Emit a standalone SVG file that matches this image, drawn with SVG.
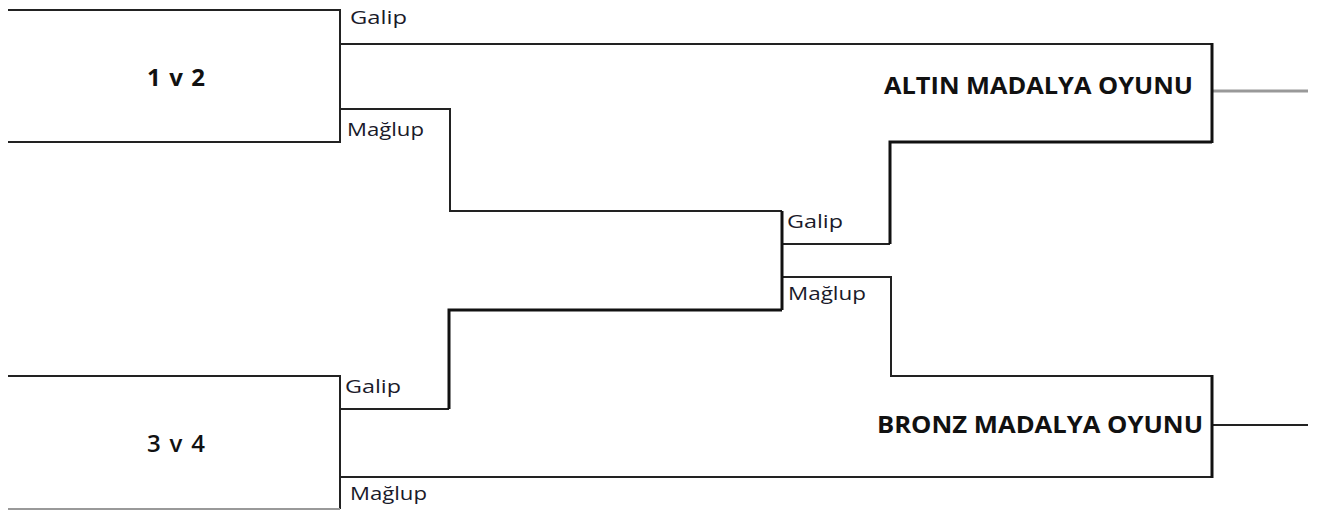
<svg xmlns="http://www.w3.org/2000/svg" width="1319" height="510" viewBox="0 0 1319 510">
  <style>
    .ln { fill: none; stroke: #222; stroke-width: 2; }
    .thick { fill: none; stroke: #111; stroke-width: 3; }
    .gray { fill: none; stroke: #999; stroke-width: 3; }
    .lbl { font-family: "Open Sans", "Liberation Sans", sans-serif; font-size: 19px; fill: #1a1a2a; }
    .match { font-family: "Open Sans", "Liberation Sans", sans-serif; font-size: 24px; font-weight: bold; fill: #111; }
    .final { font-family: "Open Sans", "Liberation Sans", sans-serif; font-size: 24px; font-weight: bold; fill: #111; }
  </style>
  <rect width="1319" height="510" fill="#fff"/>

  <g id="connectors">
    <!-- 1 v 2 winner to gold game -->
    <path class="ln" d="M340 44 H1212"/>
    <!-- 1 v 2 loser to semi-final -->
    <path class="ln" d="M340 109 H450 V211 H782"/>
    <!-- 3 v 4 winner to semi-final -->
    <path class="ln" d="M340 409 H449"/>
    <path class="thick" d="M449 409 V310 H782"/>
    <!-- 3 v 4 loser to bronze game -->
    <path class="ln" d="M340 477 H1212"/>
    <!-- semi-final winner to gold game -->
    <path class="ln" d="M782 244 H890"/>
    <path class="thick" d="M890 244 V142 H1212"/>
    <!-- semi-final loser to bronze game -->
    <path class="ln" d="M782 277 H891 V376 H1212"/>
    <!-- outputs -->
    <path class="gray" d="M1212 91 H1308"/>
    <path class="ln" d="M1212 425 H1308"/>
  </g>

  <g id="match-1v2">
    <path class="ln" d="M8 10 H340 V142 H8"/>
    <text class="match" x="147" y="86" textLength="58" lengthAdjust="spacing">1 v 2</text>
    <text class="lbl" x="350" y="24" textLength="57" lengthAdjust="spacingAndGlyphs">Galip</text>
    <text class="lbl" x="347" y="136" textLength="77" lengthAdjust="spacingAndGlyphs">Mağlup</text>
  </g>

  <g id="match-3v4">
    <path class="ln" d="M8 376 H340 V509"/>
    <path class="gray" style="stroke-width:2" d="M8 509 H340"/>
    <text class="match" x="147" y="452" textLength="58" lengthAdjust="spacing" style="font-weight:600">3 v 4</text>
    <text class="lbl" x="345" y="393" textLength="56" lengthAdjust="spacingAndGlyphs">Galip</text>
    <text class="lbl" x="350" y="500" textLength="77" lengthAdjust="spacingAndGlyphs">Mağlup</text>
  </g>

  <g id="semi-final">
    <path class="thick" d="M782 211 V310"/>
    <text class="lbl" x="787" y="228" textLength="56" lengthAdjust="spacingAndGlyphs">Galip</text>
    <text class="lbl" x="788" y="300" textLength="78" lengthAdjust="spacingAndGlyphs">Mağlup</text>
  </g>

  <g id="gold-game">
    <path class="thick" d="M1212 43 V143"/>
    <text class="final" x="884" y="94" textLength="309" lengthAdjust="spacingAndGlyphs">ALTIN MADALYA OYUNU</text>
  </g>

  <g id="bronze-game">
    <path class="thick" d="M1212 375 V478"/>
    <text class="final" x="877" y="433" textLength="326" lengthAdjust="spacingAndGlyphs">BRONZ MADALYA OYUNU</text>
  </g>
</svg>
